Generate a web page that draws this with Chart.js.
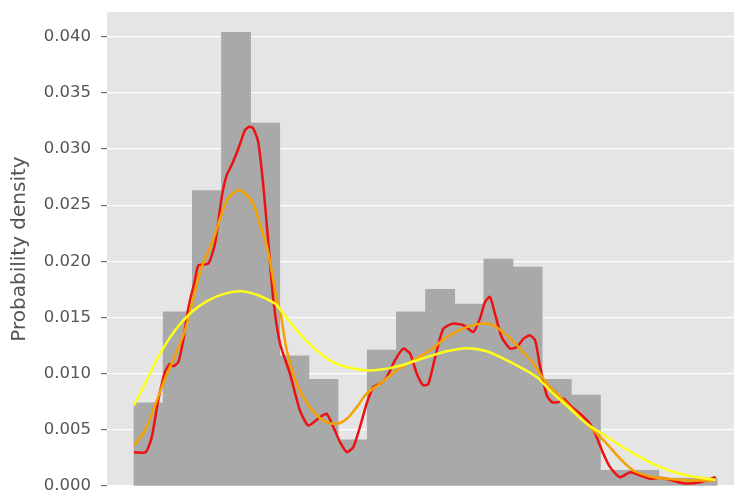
<!DOCTYPE html>
<html>
<head>
<meta charset="utf-8">
<script src="https://cdn.jsdelivr.net/npm/chart.js@4.4.0/dist/chart.umd.min.js"></script>
<style>
  html, body { margin: 0; padding: 0; background: #fff; overflow: hidden; }
  #chart { display: block; }
</style>
</head>
<body>
<canvas id="chart" width="734" height="496"></canvas>
<script>
// histogram: 20 bins, centres in bin units, density values
const binCenters = [0.5, 1.5, 2.5, 3.5, 4.5, 5.5, 6.5, 7.5, 8.5, 9.5,
                    10.5, 11.5, 12.5, 13.5, 14.5, 15.5, 16.5, 17.5, 18.5, 19.5];
const binDensity = [0.0074, 0.0155, 0.0263, 0.0404, 0.0323, 0.0116, 0.0095, 0.0041, 0.0121, 0.0155,
                    0.0175, 0.0162, 0.0202, 0.0195, 0.0095, 0.0081, 0.0014, 0.0014, 0.0007, 0.0007];

// KDE, narrow bandwidth (red)
const kdeNarrowX = [0.00, 0.40, 0.61, 0.83, 1.06, 1.23, 1.34, 1.52, 1.69, 1.81, 1.92, 2.09, 2.21, 2.55, 2.78,
                    3.01, 3.18, 3.35, 3.58, 3.81, 3.95, 4.09, 4.26, 4.44, 4.61, 4.78, 5.01, 5.35, 5.69, 5.98,
                    6.38, 6.61, 6.84, 7.07, 7.30, 7.52, 7.75, 7.98, 8.21, 8.44, 8.67, 8.95, 9.24, 9.47, 9.70,
                    9.92, 10.10, 10.33, 10.61, 10.95, 11.30, 11.64, 11.87, 12.04, 12.21, 12.38, 12.61, 12.90,
                    13.13, 13.36, 13.58, 13.76, 13.93, 14.16, 14.33, 14.56, 14.73, 15.02, 15.30, 15.64, 15.87,
                    16.10, 16.33, 16.67, 17.02, 17.36, 17.70, 18.05, 18.39, 18.83, 19.42, 19.95];
const kdeNarrowY = [0.00301, 0.00301, 0.00435, 0.00762, 0.01014, 0.01089, 0.01065, 0.01103, 0.01297, 0.01504,
                    0.01653, 0.01832, 0.01965, 0.01980, 0.02159, 0.02574, 0.02767, 0.02857, 0.03005, 0.03169,
                    0.03198, 0.03184, 0.03064, 0.02663, 0.02159, 0.01653, 0.01267, 0.01000, 0.00673, 0.00539,
                    0.00613, 0.00644, 0.00524, 0.00390, 0.00301, 0.00346, 0.00524, 0.00733, 0.00881, 0.00911,
                    0.00970, 0.01119, 0.01223, 0.01178, 0.01000, 0.00896, 0.00911, 0.01148, 0.01401, 0.01446,
                    0.01431, 0.01371, 0.01493, 0.01638, 0.01683, 0.01535, 0.01326, 0.01223, 0.01237, 0.01312,
                    0.01341, 0.01297, 0.01059, 0.00807, 0.00747, 0.00747, 0.00777, 0.00702, 0.00644, 0.00554,
                    0.00435, 0.00287, 0.00168, 0.00078, 0.00123, 0.00094, 0.00064, 0.00073, 0.00055, 0.00025,
                    0.00034, 0.00080];

// KDE, medium bandwidth (orange)
const kdeMidX = [0.00, 0.38, 0.72, 1.06, 1.41, 1.75, 1.96, 2.32, 2.67, 3.01, 3.23, 3.58, 3.87, 4.09, 4.38,
                 4.55, 4.72, 4.90, 5.01, 5.24, 5.58, 6.04, 6.49, 6.95, 7.30, 7.64, 7.98, 8.44, 9.01, 9.58,
                 10.15, 10.73, 11.41, 11.98, 12.33, 12.79, 13.24, 13.70, 14.04, 14.50, 15.07, 15.64, 16.22,
                 16.67, 17.13, 17.70, 18.27, 19.07, 19.95];
const kdeMidY = [0.00361, 0.00495, 0.00717, 0.00955, 0.01163, 0.01386, 0.01594, 0.01950, 0.02159, 0.02426,
                 0.02560, 0.02634, 0.02589, 0.02515, 0.02277, 0.02144, 0.01921, 0.01653, 0.01564, 0.01208,
                 0.00911, 0.00702, 0.00584, 0.00554, 0.00599, 0.00702, 0.00822, 0.00911, 0.01029, 0.01119,
                 0.01208, 0.01326, 0.01415, 0.01446, 0.01431, 0.01341, 0.01223, 0.01089, 0.00955, 0.00822,
                 0.00673, 0.00524, 0.00376, 0.00245, 0.00138, 0.00085, 0.00064, 0.00049, 0.00049];

// KDE, wide bandwidth (yellow)
const kdeWideX = [0.00, 0.38, 0.83, 1.41, 1.98, 2.55, 3.12, 3.69, 4.26, 4.84, 5.01, 5.58, 6.15, 6.72, 7.30,
                  7.98, 8.67, 9.36, 10.04, 10.73, 11.41, 12.10, 12.67, 13.24, 13.81, 14.38, 14.96, 15.53,
                  16.10, 16.67, 17.36, 18.05, 18.73, 19.42, 19.95];
const kdeWideY = [0.00717, 0.00911, 0.01148, 0.01386, 0.01549, 0.01653, 0.01713, 0.01734, 0.01698, 0.01624,
                  0.01573, 0.01386, 0.01234, 0.01119, 0.01059, 0.01029, 0.01045, 0.01089, 0.01148, 0.01199,
                  0.01226, 0.01199, 0.01134, 0.01059, 0.00970, 0.00822, 0.00688, 0.00554, 0.00459, 0.00361,
                  0.00257, 0.00168, 0.00109, 0.00073, 0.00055];

const yTicks = [0, 0.005, 0.01, 0.015, 0.02, 0.025, 0.03, 0.035, 0.04];

function toPoints(xs, ys) {
    return xs.map((x, i) => ({ x: x, y: ys[i] }));
}

const plotBackground = {
    id: 'plotBackground',
    beforeDraw(chart) {
        const { ctx, chartArea } = chart;
        ctx.save();
        ctx.fillStyle = '#E5E5E5';
        ctx.fillRect(chartArea.left, chartArea.top, chartArea.right - chartArea.left, chartArea.bottom - chartArea.top);
        ctx.restore();
    }
};

const lineStyle = { type: 'line', pointRadius: 0, borderWidth: 2.5, fill: false };

new Chart(document.getElementById('chart').getContext('2d'), {
    type: 'bar',
    data: {
        datasets: [
            { label: 'hist', data: toPoints(binCenters, binDensity), backgroundColor: '#A9A9A9',
              borderWidth: 0, barPercentage: 1.0, categoryPercentage: 1.0, order: 4 },
            Object.assign({ label: 'narrow', data: toPoints(kdeNarrowX, kdeNarrowY), borderColor: '#EE1111', tension: 0.2, order: 3 }, lineStyle),
            Object.assign({ label: 'medium', data: toPoints(kdeMidX, kdeMidY), borderColor: '#F5A200', tension: 0.3, order: 2 }, lineStyle),
            Object.assign({ label: 'wide', data: toPoints(kdeWideX, kdeWideY), borderColor: '#FFFF1A', tension: 0.3, order: 1 }, lineStyle)
        ]
    },
    options: {
        responsive: false,
        animation: false,
        layout: { padding: { top: 12, bottom: 10, left: 0, right: 0 } },
        plugins: { legend: { display: false }, tooltip: { enabled: false } },
        scales: {
            x: { type: 'linear', display: false, min: -0.926, max: 20.58, offset: false },
            y: {
                min: 0, max: 0.0422,
                border: { display: false },
                grid: { color: '#FFFFFF', lineWidth: 1.3, tickColor: '#555555', tickLength: 6, tickWidth: 1 },
                afterBuildTicks: (scale) => { scale.ticks = yTicks.map(v => ({ value: v })); },
                afterFit: (scale) => {
                    scale.width = 107;
                    scale.paddingTop = 0;
                    scale.paddingBottom = 0;
                },
                ticks: {
                    padding: 10,
                    color: '#555555',
                    font: { family: 'DejaVu Sans', size: 16.5 },
                    callback: (v) => Number(v).toFixed(3)
                },
                title: {
                    display: true,
                    text: 'Probability density',
                    color: '#555555',
                    font: { family: 'DejaVu Sans', size: 20 },
                    padding: { top: 8, bottom: 0 }
                }
            }
        }
    },
    plugins: [plotBackground]
});
</script>
</body>
</html>
